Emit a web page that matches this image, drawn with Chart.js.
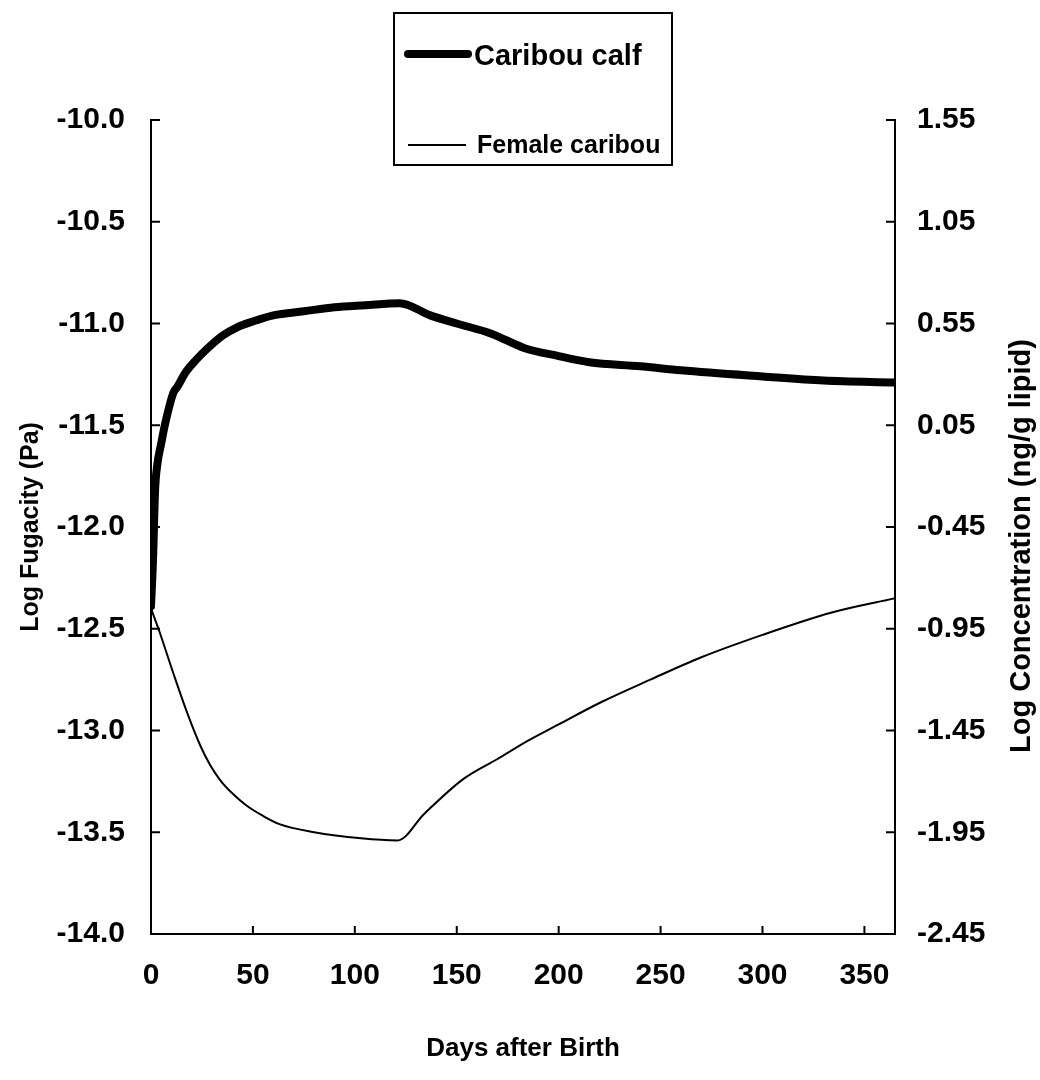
<!DOCTYPE html>
<html lang="en">
<head>
  <meta charset="UTF-8">
  <title>Log Fugacity - Caribou</title>
  <script src="https://cdn.jsdelivr.net/npm/chart.js"></script>
  <style>
    html, body { margin: 0; padding: 0; background: #fff; }
  </style>
</head>
<body>
<canvas id="chart" width="1040" height="1080"></canvas>
<script>
  // Caribou calf: log fugacity (Pa) vs days after birth
  const calfDays = [0, 1, 2, 3, 5, 7, 11, 13, 17, 22, 28, 35, 42, 50, 60, 75, 90, 105, 122, 137, 150, 167, 183, 200, 215, 240, 260, 300, 330, 365];
  const calfFug  = [-12.39, -12.16, -11.82, -11.70, -11.59, -11.49, -11.34, -11.31, -11.24, -11.18, -11.12, -11.06, -11.02, -10.99, -10.96, -10.94, -10.92, -10.91, -10.90, -10.96, -11.00, -11.05, -11.12, -11.16, -11.19, -11.21, -11.23, -11.26, -11.28, -11.29];

  // Female caribou
  const femaleDays = [0, 4, 11, 18, 24, 29, 34, 40, 47, 55, 63, 80, 103, 121, 134, 153, 170, 185, 200, 221, 245, 270, 300, 334, 365];
  const femaleFug  = [-12.40, -12.51, -12.72, -12.92, -13.07, -13.17, -13.245, -13.31, -13.37, -13.42, -13.46, -13.50, -13.53, -13.54, -13.41, -13.24, -13.14, -13.05, -12.97, -12.86, -12.75, -12.64, -12.53, -12.42, -12.35];

  // tick labels
  const dayTicks = [0, 50, 100, 150, 200, 250, 300, 350];
  const fugTicks = [-10.0, -10.5, -11.0, -11.5, -12.0, -12.5, -13.0, -13.5, -14.0];
  const concTicks = [1.55, 1.05, 0.55, 0.05, -0.45, -0.95, -1.45, -1.95, -2.45];

  const FONT = "'Liberation Sans', Arial, sans-serif";

  function toPoints(xs, ys) {
    return xs.map((x, i) => ({ x: x, y: ys[i] }));
  }

  // inward ticks, right-hand title and the boxed legend
  const frame = {
    id: 'frame',
    afterDraw(chart) {
      const ctx = chart.ctx;
      const a = chart.chartArea;
      const s = chart.scales;
      ctx.save();
      ctx.strokeStyle = '#000';
      ctx.lineWidth = 2;
      ctx.beginPath();
      fugTicks.forEach(v => {
        const y = s.y.getPixelForValue(v);
        ctx.moveTo(a.left, y); ctx.lineTo(a.left + 9, y);
      });
      concTicks.forEach(v => {
        const y = s.y2.getPixelForValue(v);
        ctx.moveTo(a.right, y); ctx.lineTo(a.right - 9, y);
      });
      dayTicks.forEach(v => {
        const x = s.x.getPixelForValue(v);
        ctx.moveTo(x, a.bottom); ctx.lineTo(x, a.bottom - 8);
      });
      ctx.stroke();

      // right axis title, reads bottom to top
      ctx.fillStyle = '#000';
      ctx.font = 'bold 29px ' + FONT;
      ctx.textAlign = 'center';
      ctx.textBaseline = 'middle';
      ctx.translate(1022, 546);
      ctx.rotate(-Math.PI / 2);
      ctx.fillText('Log Concentration (ng/g lipid)', 0, 0);
      ctx.setTransform(1, 0, 0, 1, 0, 0);

      // legend
      ctx.fillStyle = '#fff';
      ctx.fillRect(394, 13, 278, 152);
      ctx.strokeRect(394, 13, 278, 152);
      ctx.lineCap = 'round';
      ctx.lineWidth = 8;
      ctx.beginPath(); ctx.moveTo(408, 54); ctx.lineTo(468, 54); ctx.stroke();
      ctx.lineCap = 'butt';
      ctx.lineWidth = 2;
      ctx.beginPath(); ctx.moveTo(408, 145); ctx.lineTo(466, 145); ctx.stroke();
      ctx.fillStyle = '#000';
      ctx.textAlign = 'left';
      ctx.font = 'bold 29px ' + FONT;
      ctx.fillText('Caribou calf', 474, 57);
      ctx.font = 'bold 25px ' + FONT;
      ctx.fillText('Female caribou', 477, 146);
      ctx.restore();
    }
  };

  new Chart(document.getElementById('chart'), {
    type: 'line',
    data: {
      datasets: [
        {
          label: 'Caribou calf',
          data: toPoints(calfDays, calfFug),
          borderColor: '#000',
          borderWidth: 8,
          borderCapStyle: 'round',
          borderJoinStyle: 'round',
          pointRadius: 0,
          cubicInterpolationMode: 'monotone',
          yAxisID: 'y'
        },
        {
          label: 'Female caribou',
          data: toPoints(femaleDays, femaleFug),
          borderColor: '#000',
          borderWidth: 2,
          pointRadius: 0,
          cubicInterpolationMode: 'monotone',
          yAxisID: 'y'
        }
      ]
    },
    options: {
      responsive: false,
      animation: false,
      devicePixelRatio: 1,
      layout: { padding: { top: 120, left: 0, right: 0, bottom: 0 } },
      plugins: { legend: { display: false }, tooltip: { enabled: false } },
      scales: {
        x: {
          type: 'linear',
          min: 0,
          max: 365,
          afterBuildTicks: sc => { sc.ticks = dayTicks.map(v => ({ value: v })); },
          afterFit: sc => { sc.height = 146; },
          grid: { display: false, drawTicks: false },
          border: { display: true, color: '#000', width: 2 },
          ticks: { color: '#000', padding: 24, maxRotation: 0, font: { family: FONT, size: 30, weight: 'bold' } },
          title: {
            display: true,
            text: 'Days after Birth',
            color: '#000',
            padding: { top: 0, bottom: 16 },
            font: { family: FONT, size: 26, weight: 'bold' }
          }
        },
        y: {
          type: 'linear',
          position: 'left',
          min: -14,
          max: -10,
          afterBuildTicks: sc => { sc.ticks = fugTicks.map(v => ({ value: v })); },
          afterFit: sc => { sc.width = 151; },
          grid: { display: false, drawTicks: false },
          border: { display: true, color: '#000', width: 2 },
          ticks: {
            color: '#000',
            padding: 26,
            font: { family: FONT, size: 30, weight: 'bold' },
            callback: v => v.toFixed(1)
          },
          title: {
            display: true,
            text: 'Log Fugacity (Pa)',
            color: '#000',
            padding: { top: 16, bottom: 0 },
            font: { family: FONT, size: 25, weight: 'bold' }
          }
        },
        y2: {
          type: 'linear',
          position: 'right',
          min: -2.45,
          max: 1.55,
          afterBuildTicks: sc => { sc.ticks = concTicks.map(v => ({ value: v })); },
          afterFit: sc => { sc.width = 145; },
          grid: { display: false, drawTicks: false },
          border: { display: true, color: '#000', width: 2 },
          ticks: {
            color: '#000',
            padding: 22,
            font: { family: FONT, size: 30, weight: 'bold' },
            callback: v => v.toFixed(2)
          }
        }
      }
    },
    plugins: [frame]
  });
</script>
</body>
</html>
